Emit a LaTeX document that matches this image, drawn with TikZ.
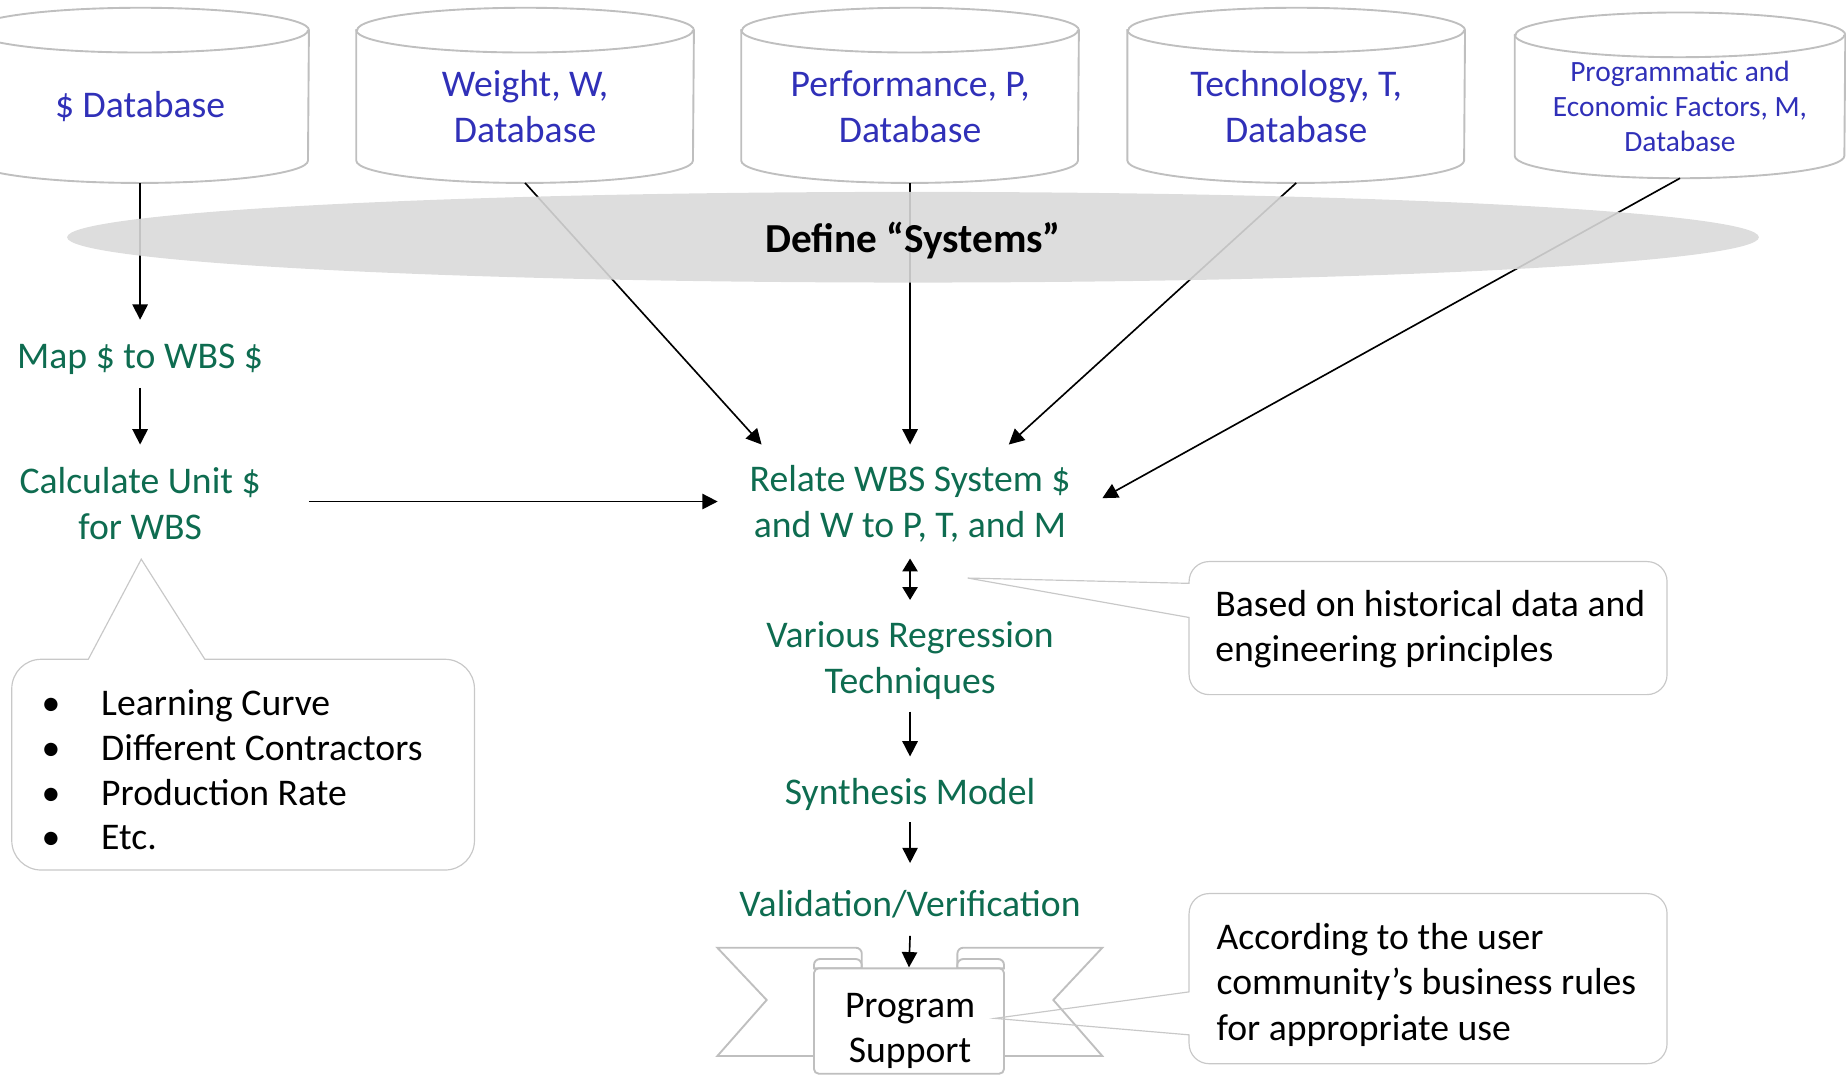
\documentclass[tikz,border=0pt]{standalone}
\usepackage{fontspec}
\setmainfont{Carlito}
\usetikzlibrary{arrows.meta,shapes.geometric}
\definecolor{dbblue}{RGB}{48,48,184}
\definecolor{flowgreen}{RGB}{14,108,80}
\definecolor{outl}{RGB}{191,191,191}
\definecolor{callgray}{RGB}{200,200,200}
\definecolor{sysgray}{RGB}{217,217,217}
\newcommand{\tstrut}{\rule{0pt}{15pt}}
\newcommand{\sstrut}{\rule{0pt}{13pt}}
\newcommand{\cylpath}[2]{%
  \draw[cylline] (#1.north west) -- ([yshift=9.5pt]#1.south west)
    arc[start angle=180,end angle=360,x radius=#2,y radius=9.5pt]
    -- (#1.north east)
    arc[start angle=0,end angle=180,x radius=#2,y radius=9.5pt] -- cycle;
  \draw[cylline] (#1.north west) arc[start angle=180,end angle=360,x radius=#2,y radius=9.5pt];
}
\begin{document}
\begin{tikzpicture}[x=0.5pt,y=-0.5pt,
  txt/.style={font=\fontsize{16}{19.3}\selectfont, align=center, inner sep=0pt},
  flow/.style={txt, text=flowgreen},
  db/.style={txt, text=dbblue, minimum width=143pt, minimum height=64.5pt},
  cylline/.style={draw=outl, line width=0.8pt},
  arr/.style={draw=black, line width=0.7pt, -{Triangle[length=6.5pt,width=6.5pt]}},
  darr/.style={draw=black, line width=0.7pt, {Triangle[length=5.5pt,width=6.5pt]}-{Triangle[length=5.5pt,width=6.5pt]}},
  callout/.style={draw=callgray, line width=0.5pt},
  rib/.style={draw=outl, line width=0.8pt, fill=white},
]
\useasboundingbox (0,0) rectangle (1568,914);

% database cylinders
\node[db] (cylD) at (119,90.5) {\$ Database};
\cylpath{cylD}{71.5pt}
\node[db] (cylW) at (446,90.5) {Weight, W,\\Database};
\cylpath{cylW}{71.5pt}
\node[db] (cylP) at (773,90.5) {Performance, P,\\Database};
\cylpath{cylP}{71.5pt}
\node[db] (cylT) at (1101,90.5) {Technology, T,\\Database};
\cylpath{cylT}{71.5pt}
\node[db, minimum width=140pt, minimum height=60.5pt, font=\fontsize{12.5}{15}\selectfont] (cylM) at (1427,90.5) {Programmatic and\\Economic Factors, M,\\Database};
\cylpath{cylM}{70pt}

% flow nodes
\node[flow, minimum height=28.5pt] (map) at (119,300.5) {\tstrut Map \$ to WBS \$};
\node[flow, minimum height=48pt, minimum width=143pt] (unit) at (119,426) {\sstrut Calculate Unit \$\\for WBS};
\node[flow, minimum width=163pt, minimum height=48pt] (rel) at (773,426) {\sstrut Relate WBS System \$\\and W to P, T, and M};
\node[flow, minimum height=47pt] (reg) at (773,557) {\tstrut Various Regression\\Techniques};
\node[flow, minimum height=27.5pt] (syn) at (773,670.5) {\tstrut Synthesis Model};
\node[flow, minimum height=30.5pt] (val) at (773,764) {\tstrut Validation/Verification};

% ribbon
\filldraw[rib] (691.4,897) -- (609.3,897) -- (651.2,849.4) -- (609.3,805) -- (727,805)
  arc[start angle=90,end angle=0,radius=2.5pt] -- (731.9,822.5) -- cycle;
\filldraw[rib] (852.8,897) -- (936.3,897) -- (894.7,849.4) -- (936.3,805) -- (818.2,805)
  arc[start angle=90,end angle=180,radius=2.5pt] -- (813.2,822.5) -- cycle;
\filldraw[rib] (691.4,822.5) -- (691.4,819.6) arc[start angle=180,end angle=90,radius=2.5pt]
  -- (726.9,814.6) arc[start angle=90,end angle=0,radius=2.5pt] -- (731.9,822.5) -- cycle;
\filldraw[rib] (813.2,822.5) -- (813.2,819.6) arc[start angle=180,end angle=90,radius=2.5pt]
  -- (847.8,814.6) arc[start angle=90,end angle=0,radius=2.5pt] -- (852.8,822.5) -- cycle;
\node[rib, rounded corners=2pt, minimum width=80.7pt, minimum height=44.75pt, inner sep=0pt] (panel) at (772.1,867.25) {};
\node[txt] (prog) at (773,871) {\tstrut Program\\Support};

% connectors
\draw[arr] (cylD.south) -- (map.north);
\draw[arr] (map.south) -- (unit.north);
\draw[arr] (unit.east) -- (rel.west);
\draw[arr] (cylW.south) -- (rel.159);
\draw[arr] (cylP.south) -- (rel.north);
\draw[arr] (cylT.south) -- (rel.30);
\draw[arr] (cylM.south) -- (rel.1);
\draw[darr] (rel.south) -- (reg.north);
\draw[arr] (reg.south) -- (syn.north);
\draw[arr] (syn.south) -- (val.north);
\draw[arr] (val.south) -- (panel.north);

% define systems
\node[ellipse, fill=sysgray, fill opacity=0.9, text opacity=1, minimum width=718.5pt, minimum height=38.5pt, inner sep=0pt, font=\bfseries\fontsize{17.5}{20}\selectfont] (sys) at (775.5,201.5) {\rule{0pt}{16pt}Define “Systems”};

% callouts
\draw[callout] (75,560) -- (120,475) -- (174,560) -- (378,560)
  arc[start angle=90,end angle=0,radius=12.5pt] -- (403,714)
  arc[start angle=0,end angle=-90,radius=12.5pt] -- (35,739)
  arc[start angle=270,end angle=180,radius=12.5pt] -- (10,585)
  arc[start angle=180,end angle=90,radius=12.5pt] -- cycle;
\node[txt, align=left, anchor=west, font=\fontsize{16}{19}\selectfont] (bul) at (35,654) {\makebox[25.3pt][l]{•}Learning Curve\\\makebox[25.3pt][l]{•}Different Contractors\\\makebox[25.3pt][l]{•}Production Rate\\\makebox[25.3pt][l]{•}Etc.};

\draw[callout] (1010,524.5) -- (822,491) -- (1010,495.5) -- (1010,494)
  arc[start angle=180,end angle=90,radius=8.5pt] -- (1399,477)
  arc[start angle=90,end angle=0,radius=8.5pt] -- (1416,573)
  arc[start angle=0,end angle=-90,radius=8.5pt] -- (1027,590)
  arc[start angle=270,end angle=180,radius=8.5pt] -- cycle;
\node[txt, align=left, anchor=west] (note1) at (1032,530.5) {\tstrut Based on historical data and\\engineering principles};

\draw[callout] (1010,879) -- (845,865) -- (1010,842.5) -- (1010,776)
  arc[start angle=180,end angle=90,radius=8.5pt] -- (1399,759)
  arc[start angle=90,end angle=0,radius=8.5pt] -- (1416,886.5)
  arc[start angle=0,end angle=-90,radius=8.5pt] -- (1027,903.5)
  arc[start angle=270,end angle=180,radius=8.5pt] -- cycle;
\node[txt, align=left, anchor=west] (note2) at (1033,832.5) {\tstrut According to the user\\community’s business rules\\for appropriate use};
\end{tikzpicture}
\end{document}
